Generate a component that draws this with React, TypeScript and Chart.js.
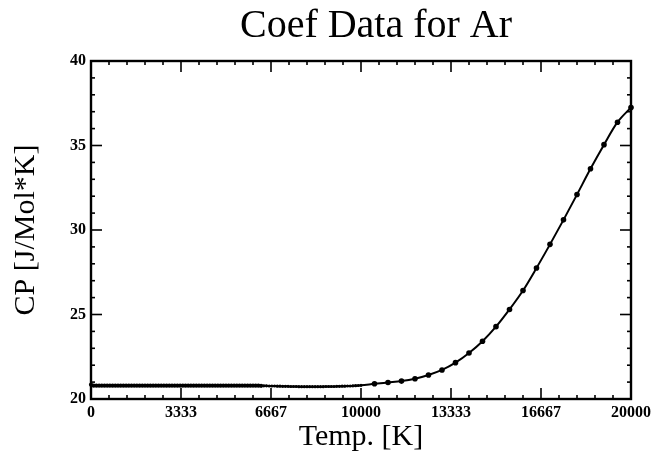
import React, { useEffect, useRef } from "react";
import { Chart, registerables } from "chart.js";

Chart.register(...registerables);

const chartTitle = "Coef Data for Ar";
const xAxisTitle = "Temp. [K]";
const yAxisTitle = "CP [J/Mol*K]";

const xTickValues = [0, 3333.33, 6666.67, 10000, 13333.33, 16666.67, 20000];
const xTickLabels = ["0", "3333", "6667", "10000", "13333", "16667", "20000"];
const yTickValues = [20, 25, 30, 35, 40];
const yTickLabels = ["20", "25", "30", "35", "40"];

const tempK = [
  0, 100, 200, 300, 400, 500, 600, 700, 800, 900,
  1000, 1100, 1200, 1300, 1400, 1500, 1600, 1700, 1800, 1900,
  2000, 2100, 2200, 2300, 2400, 2500, 2600, 2700, 2800, 2900,
  3000, 3100, 3200, 3300, 3400, 3500, 3600, 3700, 3800, 3900,
  4000, 4100, 4200, 4300, 4400, 4500, 4600, 4700, 4800, 4900,
  5000, 5100, 5200, 5300, 5400, 5500, 5600, 5700, 5800, 5900,
  6000, 6100, 6200, 6300, 6400, 6500, 6600, 6700, 6800, 6900,
  7000, 7100, 7200, 7300, 7400, 7500, 7600, 7700, 7800, 7900,
  8000, 8100, 8200, 8300, 8400, 8500, 8600, 8700, 8800, 8900,
  9000, 9100, 9200, 9300, 9400, 9500, 9600, 9700, 9800, 9900,
  10000, 10500, 11000, 11500, 12000, 12500, 13000, 13500, 14000, 14500,
  15000, 15500, 16000, 16500, 17000, 17500, 18000, 18500, 19000, 19500,
  20000,
];

const cpValues = [
  20.85, 20.79, 20.79, 20.79, 20.79, 20.79, 20.79, 20.79, 20.79, 20.79,
  20.79, 20.79, 20.79, 20.79, 20.79, 20.79, 20.79, 20.79, 20.79, 20.79,
  20.79, 20.79, 20.79, 20.79, 20.79, 20.79, 20.79, 20.79, 20.79, 20.79,
  20.79, 20.79, 20.79, 20.79, 20.79, 20.79, 20.79, 20.79, 20.79, 20.79,
  20.79, 20.79, 20.79, 20.79, 20.79, 20.79, 20.79, 20.79, 20.79, 20.79,
  20.79, 20.79, 20.79, 20.79, 20.79, 20.79, 20.79, 20.79, 20.79, 20.79,
  20.79, 20.79, 20.79, 20.78, 20.78, 20.78, 20.77, 20.77, 20.77, 20.76,
  20.76, 20.75, 20.75, 20.75, 20.74, 20.74, 20.74, 20.73, 20.73, 20.73,
  20.73, 20.73, 20.73, 20.73, 20.73, 20.73, 20.73, 20.74, 20.74, 20.74,
  20.74, 20.75, 20.75, 20.76, 20.76, 20.77, 20.77, 20.78, 20.79, 20.80,
  20.81, 20.90, 20.98, 21.06, 21.20, 21.42, 21.72, 22.15, 22.72, 23.42,
  24.28, 25.30, 26.42, 27.75, 29.15, 30.60, 32.10, 33.62, 35.05, 36.38,
  37.25,
];

const serif = "'Liberation Serif', 'DejaVu Serif', serif";

const framePlugin = {
  id: "frameTicks",
  afterLayout(chart: any) {
    const t = chart.titleBlock;
    if (t) {
      t.left += 15;
      t.right += 15;
    }
  },
  afterDraw(chart: any) {
    const { ctx, chartArea: a, scales } = chart;
    const xs = scales.x;
    const ys = scales.y;
    ctx.save();
    ctx.strokeStyle = "#000";
    const seg = (x1: number, y1: number, x2: number, y2: number) => {
      ctx.beginPath();
      ctx.moveTo(x1, y1);
      ctx.lineTo(x2, y2);
      ctx.stroke();
    };
    ctx.lineWidth = 1.6;
    const xTick = (v: number, len: number) => {
      const px = xs.getPixelForValue(v);
      seg(px, a.bottom, px, a.bottom - len);
      seg(px, a.top, px, a.top + len);
    };
    const yTick = (v: number, len: number) => {
      const py = ys.getPixelForValue(v);
      seg(a.left, py, a.left + len, py);
      seg(a.right, py, a.right - len, py);
    };
    for (let i = 0; i < xTickValues.length; i++) {
      xTick(xTickValues[i], 11);
      if (i < xTickValues.length - 1) {
        const step = (xTickValues[i + 1] - xTickValues[i]) / 5;
        for (let k = 1; k < 5; k++) xTick(xTickValues[i] + step * k, 4);
      }
    }
    for (let i = 0; i < yTickValues.length; i++) {
      yTick(yTickValues[i], 11);
      if (i < yTickValues.length - 1) {
        const step = (yTickValues[i + 1] - yTickValues[i]) / 5;
        for (let k = 1; k < 5; k++) yTick(yTickValues[i] + step * k, 4);
      }
    }
    ctx.lineWidth = 2.4;
    ctx.strokeRect(a.left, a.top, a.right - a.left, a.bottom - a.top);
    ctx.restore();
  },
};

export default function App() {
  const ref = useRef<HTMLCanvasElement | null>(null);

  useEffect(() => {
    document.body.style.margin = "0";
    const canvas = ref.current;
    if (!canvas) return;
    const chart = new Chart(canvas, {
      type: "line",
      data: {
        datasets: [
          {
            data: tempK.map((t, i) => ({ x: t, y: cpValues[i] })),
            borderColor: "#000",
            backgroundColor: "#000",
            borderWidth: 2,
            pointRadius: (c: any) => {
              const x = c.raw ? c.raw.x : 0;
              if (x < 6400) return 2.1;
              if (x <= 10000) return 1.6;
              return 2.8;
            },
            pointBackgroundColor: "#000",
            pointBorderWidth: 0,
            cubicInterpolationMode: "monotone",
            clip: false,
          } as any,
        ],
      },
      options: {
        responsive: false,
        animation: false,
        events: [],
        layout: { padding: { left: 0, right: 38, top: 0, bottom: 0 } },
        plugins: {
          legend: { display: false },
          tooltip: { enabled: false },
          title: {
            display: true,
            text: chartTitle,
            fullSize: false,
            color: "#000",
            font: { family: serif, size: 40, weight: "normal" },
            padding: { top: 2, bottom: 11 },
          },
        },
        scales: {
          x: {
            type: "linear",
            min: 0,
            max: 20000,
            grid: { display: false, drawTicks: false },
            border: { display: false },
            afterBuildTicks: (s: any) => {
              s.ticks = xTickValues.map((v) => ({ value: v }));
            },
            afterFit: (s: any) => {
              s.height = 59;
            },
            ticks: {
              color: "#000",
              padding: 4,
              maxRotation: 0,
              autoSkip: false,
              font: { family: serif, size: 16, weight: "bold" },
              callback: (_v: any, i: number) => xTickLabels[i],
            },
            title: {
              display: true,
              text: xAxisTitle,
              color: "#000",
              font: { family: serif, size: 30 },
              padding: { top: 0, bottom: 3 },
            },
          },
          y: {
            type: "linear",
            min: 20,
            max: 40,
            grid: { display: false, drawTicks: false },
            border: { display: false },
            afterBuildTicks: (s: any) => {
              s.ticks = yTickValues.map((v) => ({ value: v }));
            },
            afterFit: (s: any) => {
              s.width = 91;
            },
            ticks: {
              color: "#000",
              padding: 5,
              autoSkip: false,
              font: { family: serif, size: 16, weight: "bold" },
              callback: (_v: any, i: number) => yTickLabels[i],
            },
            title: {
              display: true,
              text: yAxisTitle,
              color: "#000",
              font: { family: serif, size: 30 },
              padding: { top: 8, bottom: 0 },
            },
          },
        },
      },
      plugins: [framePlugin],
    } as any);
    return () => chart.destroy();
  }, []);

  return (
    <div style={{ width: 669, height: 458, background: "#fff" }}>
      <canvas ref={ref} width={669} height={458} />
    </div>
  );
}
